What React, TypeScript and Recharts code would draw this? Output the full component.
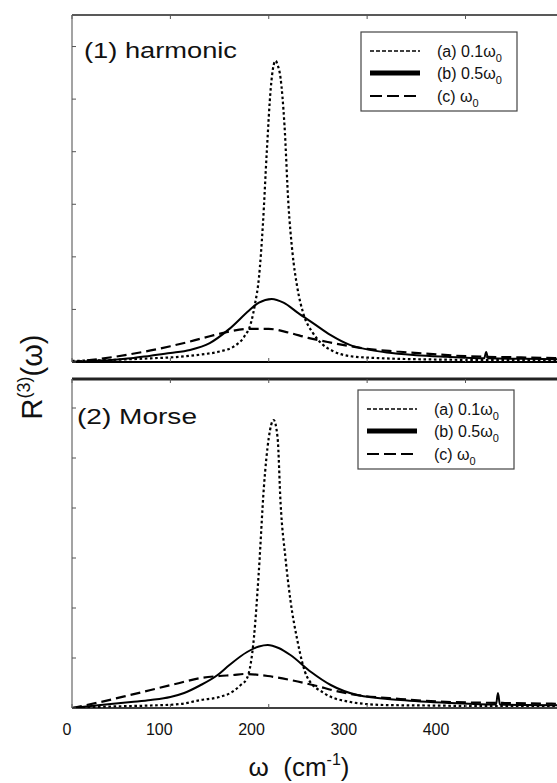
import { LineChart, Line, XAxis, YAxis } from "recharts";

// (1) harmonic
const hA_x = [0, 40, 80, 110, 130, 150, 165, 175, 182, 186, 190, 194, 198, 202, 205, 207, 209, 212, 216, 220, 224, 229, 235, 245, 255, 265, 283, 317, 360, 420, 470, 510];
const hA_y = [0.02, 0.04, 0.07, 0.1, 0.14, 0.2, 0.3, 0.48, 0.75, 1.1, 1.6, 2.6, 4.0, 5.2, 5.65, 5.73, 5.65, 5.4, 4.5, 3.0, 2.1, 1.42, 0.93, 0.55, 0.33, 0.21, 0.11, 0.07, 0.05, 0.04, 0.04, 0.04];
const hB_x = [0, 20, 40, 60, 80, 100, 120, 140, 160, 180, 190, 203, 215, 230, 245, 263, 283, 300, 320, 350, 380, 419, 421, 423, 460, 510];
const hB_y = [0, 0.02, 0.04, 0.07, 0.12, 0.17, 0.23, 0.36, 0.63, 0.98, 1.13, 1.2, 1.13, 0.93, 0.74, 0.51, 0.32, 0.24, 0.18, 0.13, 0.1, 0.07, 0.19, 0.07, 0.06, 0.05];
const hC_x = [0, 20, 40, 60, 80, 100, 120, 140, 160, 180, 200, 220, 240, 260, 280, 300, 330, 360, 400, 450, 510];
const hC_y = [0, 0.04, 0.09, 0.15, 0.22, 0.3, 0.39, 0.49, 0.58, 0.63, 0.63, 0.56, 0.46, 0.38, 0.31, 0.25, 0.2, 0.16, 0.11, 0.09, 0.07];

// (2) Morse
const mA_x = [0, 40, 80, 110, 131, 150, 161, 171, 178, 185, 190, 195, 200, 205, 209, 212, 217, 222, 229, 239, 256, 283, 317, 360, 420, 470, 510];
const mA_y = [0, 0.03, 0.05, 0.08, 0.16, 0.22, 0.3, 0.45, 0.6, 1.42, 2.76, 4.4, 5.4, 5.76, 5.4, 4.1, 3.0, 2.16, 1.36, 0.62, 0.3, 0.12, 0.06, 0.05, 0.04, 0.04, 0.04];
const mB_x = [0, 29, 60, 80, 100, 114, 130, 148, 160, 178, 190, 199, 210, 222, 243, 263, 290, 334, 385, 431, 433, 435, 460, 510];
const mB_y = [0, 0.06, 0.12, 0.16, 0.22, 0.3, 0.45, 0.66, 0.86, 1.12, 1.23, 1.26, 1.2, 1.06, 0.72, 0.46, 0.26, 0.16, 0.1, 0.07, 0.3, 0.07, 0.06, 0.05];
const mC_x = [0, 29, 55, 80, 105, 131, 150, 164, 175, 199, 222, 249, 266, 283, 334, 385, 440, 510];
const mC_y = [0, 0.12, 0.24, 0.36, 0.48, 0.6, 0.64, 0.66, 0.68, 0.64, 0.56, 0.44, 0.35, 0.28, 0.18, 0.12, 0.1, 0.08];

const xTicks = [0, 100, 200, 300, 400];
const yTicks = [0, 1, 2, 3, 4, 5, 6];
const legendNames = ["(a) 0.1ω", "(b) 0.5ω", "(c) ω"];

const FONT = '"Liberation Sans", Arial, sans-serif';
const zip = (xs: number[], ys: number[]) => xs.map((x, i) => ({ x, y: ys[i] }));
const blank = () => "";

const styles = [
  { strokeWidth: 2.2, strokeDasharray: "2.6 2.6" },
  { strokeWidth: 2 },
  { strokeWidth: 2.2, strokeDasharray: "10 5" },
];
const legendStyles = [
  { strokeWidth: 1.6, strokeDasharray: "4 2" },
  { strokeWidth: 5 },
  { strokeWidth: 2.2, strokeDasharray: "12 5" },
];

function Panel({
  series,
  top,
  height,
  margin,
  yMax,
  topAxisWidth,
  bottomAxisWidth,
  labels,
}: {
  series: { x: number; y: number }[][];
  top: number;
  height: number;
  margin: { top: number; bottom: number };
  yMax: number;
  topAxisWidth: number;
  bottomAxisWidth: number;
  labels?: boolean;
}) {
  return (
    <div style={{ position: "absolute", left: 0, top }}>
      <LineChart width={557} height={height} margin={{ top: margin.top, bottom: margin.bottom, left: 72, right: 0 }}>
        <XAxis
          xAxisId="b"
          dataKey="x"
          type="number"
          domain={[0, 493]}
          allowDataOverflow
          ticks={xTicks}
          orientation="bottom"
          mirror
          height={1}
          tickSize={4}
          tickFormatter={blank}
          axisLine={{ stroke: "#000", strokeWidth: bottomAxisWidth }}
          tickLine={{ stroke: "#555" }}
        />
        <XAxis
          xAxisId="t"
          dataKey="x"
          type="number"
          domain={[0, 493]}
          allowDataOverflow
          ticks={xTicks}
          orientation="top"
          mirror
          height={1}
          tickSize={4}
          tickFormatter={blank}
          axisLine={{ stroke: "#222", strokeWidth: topAxisWidth }}
          tickLine={{ stroke: "#555" }}
        />
        {labels && (
          <XAxis
            xAxisId="lab"
            dataKey="x"
            type="number"
            domain={[0, 525.7]}
            allowDataOverflow
            ticks={xTicks}
            interval={0}
            orientation="bottom"
            height={40}
            axisLine={false}
            tickLine={false}
            tickSize={6}
            tickMargin={10}
            tick={{ fill: "#111", fontSize: 16, fontFamily: FONT, dx: -5 }}
          />
        )}
        <YAxis
          type="number"
          domain={[0, yMax]}
          allowDataOverflow
          ticks={yTicks}
          mirror
          width={1}
          tickSize={4}
          tickFormatter={blank}
          axisLine={{ stroke: "#666", strokeWidth: 1.2 }}
          tickLine={{ stroke: "#555" }}
        />
        {series.map((d, i) => (
          <Line
            key={i}
            xAxisId="b"
            data={d}
            dataKey="y"
            type="monotone"
            stroke="#000"
            dot={false}
            isAnimationActive={false}
            {...styles[i]}
          />
        ))}
        {/* carriers so the top and label axes get their scales; drawn with no stroke */}
        <Line xAxisId="t" data={series[2]} dataKey="y" stroke="none" dot={false} activeDot={false} isAnimationActive={false} />
        {labels && (
          <Line xAxisId="lab" data={series[2]} dataKey="y" stroke="none" dot={false} activeDot={false} isAnimationActive={false} />
        )}
      </LineChart>
    </div>
  );
}

function LegendBox({ x, y }: { x: number; y: number }) {
  const rows = [19, 41, 64];
  return (
    <g>
      <rect x={x} y={y} width={156} height={79} fill="#fff" stroke="#444" strokeWidth={1.2} />
      {rows.map((dy, i) => (
        <g key={i}>
          <line x1={x + 9} x2={x + 59} y1={y + dy} y2={y + dy} stroke="#000" {...legendStyles[i]} />
          <text x={x + 76} y={y + dy + 6} fontSize={16} fontFamily={FONT} fill="#111">
            {legendNames[i]}
            <tspan fontSize={11} dy={5}>0</tspan>
          </text>
        </g>
      ))}
    </g>
  );
}

export default function App() {
  return (
    <div style={{ position: "absolute", left: 0, top: 0, width: 557, height: 783, overflow: "hidden", background: "#fff" }}>
      <Panel
        series={[zip(hA_x, hA_y), zip(hB_x, hB_y), zip(hC_x, hC_y)]}
        top={0}
        height={370}
        margin={{ top: 15, bottom: 8 }}
        yMax={6.6}
        topAxisWidth={1.5}
        bottomAxisWidth={2}
      />
      <Panel
        series={[zip(mA_x, mA_y), zip(mB_x, mB_y), zip(mC_x, mC_y)]}
        top={370}
        height={413}
        margin={{ top: 9, bottom: 35 }}
        yMax={6.58}
        topAxisWidth={3}
        bottomAxisWidth={1.5}
        labels
      />
      <svg width={557} height={783} style={{ position: "absolute", left: 0, top: 0, pointerEvents: "none" }}>
        <text x={84} y={58} fontSize={22} fontFamily={FONT} fill="#111" textLength={153} lengthAdjust="spacingAndGlyphs">
          (1) harmonic
        </text>
        <text x={77} y={424} fontSize={22} fontFamily={FONT} fill="#111" textLength={120} lengthAdjust="spacingAndGlyphs">
          (2) Morse
        </text>
        <LegendBox x={361} y={32} />
        <LegendBox x={358} y={390} />
        <text x={42} y={377} fontSize={29} fontFamily={FONT} fill="#111" textAnchor="middle" transform="rotate(-90 42 377)">
          R<tspan fontSize={18} dy={-12}>(3)</tspan>
          <tspan dy={12}>(ω)</tspan>
        </text>
        <text x={299} y={776} fontSize={26} fontFamily={FONT} fill="#111" textAnchor="middle">
          {"ω\u00A0\u00A0(cm"}<tspan fontSize={16} dy={-11}>-1</tspan>
          <tspan dy={11}>)</tspan>
        </text>
      </svg>
    </div>
  );
}
